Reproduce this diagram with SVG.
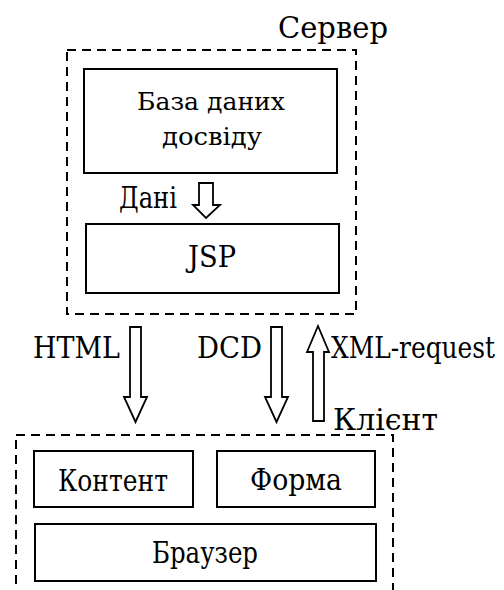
<svg xmlns="http://www.w3.org/2000/svg" width="504" height="590" viewBox="0 0 504 590">
<style>
.box{fill:#fff;stroke:#000;stroke-width:2}
.dash{fill:none;stroke:#000;stroke-width:2;stroke-dasharray:9 6}
.arr{fill:#fff;stroke:#000;stroke-width:1.8;stroke-linejoin:miter}
text{font-family:"DejaVu Serif","Liberation Serif",serif;font-size:29px;fill:#000}
.sm{font-size:25px}
</style>
<rect width="504" height="590" fill="#fff"/>
<g id="server">
<rect class="dash" x="67" y="50" width="289" height="264"/>
<text x="278" y="38" textLength="110" lengthAdjust="spacingAndGlyphs">Сервер</text>
</g>
<g id="db">
<rect class="box" x="84" y="69" width="253" height="104"/>
<text class="sm" x="137" y="110" textLength="148" lengthAdjust="spacingAndGlyphs">База даних</text>
<text class="sm" x="162" y="145" textLength="100" lengthAdjust="spacingAndGlyphs">досвіду</text>
</g>
<g id="jsp">
<rect class="box" x="86" y="224" width="253" height="69"/>
<text x="188" y="267" font-size="27" textLength="48" lengthAdjust="spacingAndGlyphs">JSP</text>
</g>
<g id="client">
<rect class="dash" x="16" y="435" width="377" height="170"/>
<text x="333" y="430" font-size="31" textLength="105" lengthAdjust="spacingAndGlyphs">Клієнт</text>
</g>
<g id="content">
<rect class="box" x="34" y="451" width="159" height="56"/>
<text x="58" y="491" textLength="110" lengthAdjust="spacingAndGlyphs">Контент</text>
</g>
<g id="form">
<rect class="box" x="217" y="451" width="158" height="56"/>
<text x="250" y="490" textLength="92" lengthAdjust="spacingAndGlyphs">Форма</text>
</g>
<g id="browser">
<rect class="box" x="35" y="524" width="341" height="57"/>
<text x="152" y="563" textLength="106" lengthAdjust="spacingAndGlyphs">Браузер</text>
</g>
<g id="connectors">
<polygon class="arr" points="199,183 213,183 213,205 220,205 206,218 193,205 199,205"/>
<text x="119" y="208" font-size="27" textLength="58" lengthAdjust="spacingAndGlyphs">Дані</text>
<polygon class="arr" points="130,327 141,327 141,397 147,397 135.5,422 124,397 130,397"/>
<text x="33" y="358" textLength="87" lengthAdjust="spacingAndGlyphs">HTML</text>
<polygon class="arr" points="271,327 282,327 282,397 288,397 276.5,422 265,397 271,397"/>
<text x="197" y="358" textLength="65" lengthAdjust="spacingAndGlyphs">DCD</text>
<polygon class="arr" points="318,326 329,352 324,352 324,421 313,421 313,352 307,352"/>
<text x="331" y="358" font-size="25" textLength="164" lengthAdjust="spacingAndGlyphs">XML-request</text>
</g>
</svg>
